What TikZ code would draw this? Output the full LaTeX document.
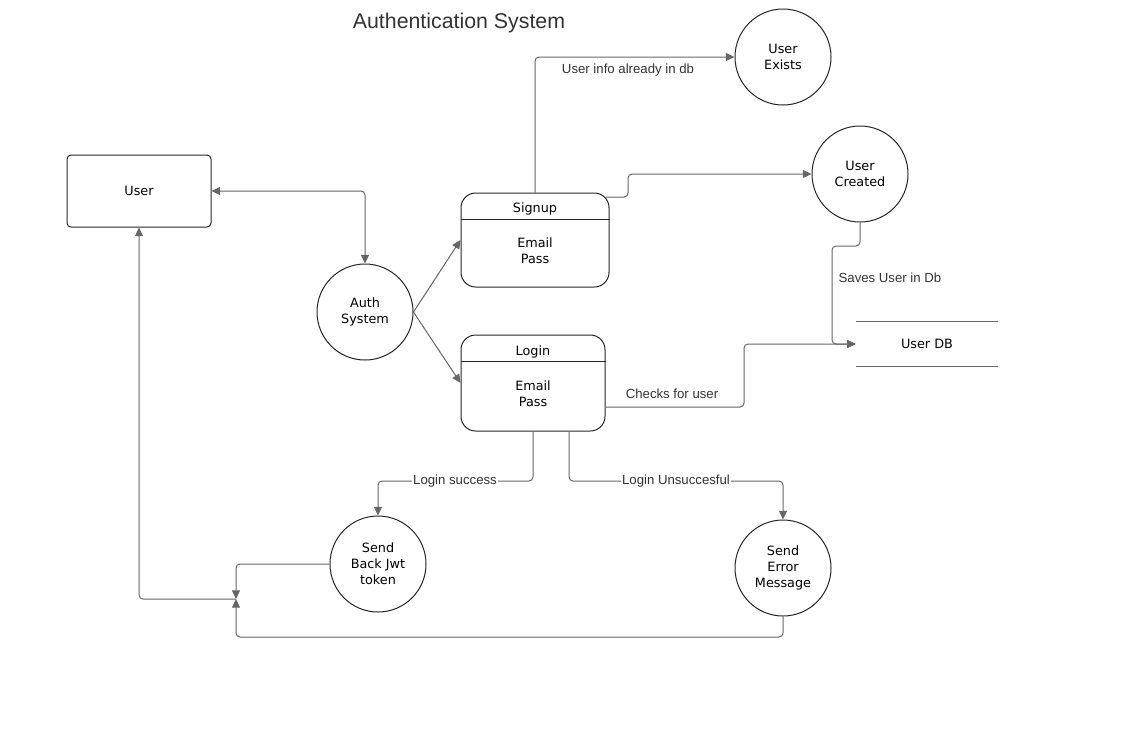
\documentclass[tikz,border=0pt]{standalone}
\usepackage{fontspec}
\setmainfont{Liberation Sans}
\newfontfamily\vfont{DejaVu Sans}
\usetikzlibrary{arrows.meta,calc}
\definecolor{linegray}{HTML}{666666}
\definecolor{txtgray}{HTML}{333333}
\definecolor{shapeline}{HTML}{262626}
\begin{document}
\begin{tikzpicture}[x=0.75pt,y=-0.75pt,line join=round,
  conn/.style={draw=linegray,line width=0.75pt,rounded corners=3pt,-{Triangle[length=6.5pt,width=6pt]}},
  conn2/.style={draw=linegray,line width=0.75pt,rounded corners=3pt,{Triangle[length=6.5pt,width=6pt]}-{Triangle[length=6.5pt,width=6pt]}},
  ntext/.style={font=\vfont\fontsize{9.6}{12}\selectfont,align=center,inner sep=0pt},
  circ/.style={circle,draw=shapeline,line width=0.75pt,minimum size=72pt,inner sep=0pt,ntext},
  procbox/.style={rectangle,rounded corners=11pt,draw=shapeline,line width=0.75pt,inner sep=0pt},
  lbl/.style={font=\fontsize{9.9}{12}\selectfont,text=txtgray,inner sep=1pt},
  lblbg/.style={lbl,fill=white}]
\useasboundingbox (0,0) rectangle (1123,729);

% title
\node[font=\fontsize{16}{19}\selectfont,text=txtgray] (title) at (459,23) {Authentication System};

% nodes
\node[rectangle,rounded corners=3pt,draw=shapeline,line width=0.75pt,minimum width=108pt,minimum height=54pt,ntext] (user) at (139,191) {User};
\node[circ] (auth) at (365,312) {Auth\\System};

\node[procbox,minimum width=111pt,minimum height=70.5pt] (signup) at (535,240) {};
\draw[draw=shapeline,line width=0.75pt] (signup.west |- 0,219) -- (signup.east |- 0,219);
\node[ntext] (signupT) at (535,209) {Signup};
\node[ntext] (signupB) at (535,251) {Email\\Pass};

\node[procbox,minimum width=108pt,minimum height=72pt] (login) at (533,383) {};
\draw[draw=shapeline,line width=0.75pt] (login.west |- 0,361) -- (login.east |- 0,361);
\node[ntext] (loginT) at (533,352) {Login};
\node[ntext] (loginB) at (533,394) {Email\\Pass};

\node[circ] (exists) at (783,57) {User\\Exists};
\node[circ] (created) at (860,174) {User\\Created};

\node[rectangle,minimum width=106.5pt,minimum height=33.75pt,inner sep=0pt,ntext] (db) at (927,344) {User DB};
\draw[draw=linegray,line width=0.75pt] (db.north west) -- (db.north east);
\draw[draw=linegray,line width=0.75pt] (db.south west) -- (db.south east);

\node[circ] (jwt) at (378,564) {Send\\Back Jwt\\token};
\node[circ] (err) at (783,568) {Send\\Error\\Message};

\coordinate (j) at (236,599);

% connectors
\draw[conn2] (user.east) -| (auth.north);
\draw[conn] (auth.east) -- (signup.west);
\draw[conn] (auth.east) -- (login.west);

\draw[conn] (signup.north) |- (exists.west);
\node[lbl] (l1) at (628,70) {User info already in db};

\draw[conn] ([xshift=-3pt,yshift=-3.5pt]signup.north east) -- (628,197) |- (created.west);

\draw[conn] (created.south) |- (832,246) |- (db.west);
\node[lbl,anchor=west] (l2) at (837,278) {Saves User in Db};

\draw[conn] (login.east |- 0,407) -- (744,407) |- (db.west);
\node[lbl] (l3) at (672,394) {Checks for user};

\draw[conn] (login.south) -- (533,481) -| (jwt.north);
\node[lblbg] (l4) at (455,481) {Login success};

\draw[conn] (login.south -| 569,0) -- (569,481) -| (err.north);
\node[lblbg] (l5) at (676,481) {Login Unsuccesful};

\draw[conn] (jwt.west) -| (j);
\draw[conn] (err.south) |- (j |- 0,637) -- (j);
\draw[conn] (j) -| (user.south);
\end{tikzpicture}
\end{document}
